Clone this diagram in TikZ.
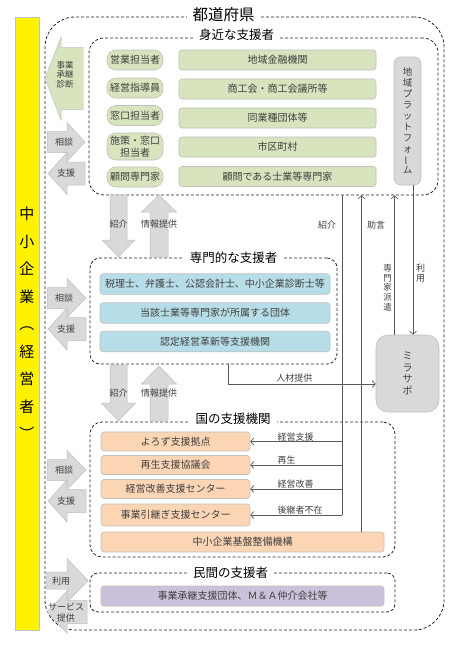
\documentclass[tikz,border=0pt]{standalone}
\usepackage{fontspec}
\setmainfont{Noto Sans CJK JP}
\usepackage{graphicx}
\usepackage{tikz}
\usetikzlibrary{positioning,calc,arrows.meta}

\definecolor{grnfill}{HTML}{D7E4BD}
\definecolor{bluefill}{HTML}{B7DEE8}
\definecolor{orgfill}{HTML}{FCD5B5}
\definecolor{purfill}{HTML}{CCC1DA}
\definecolor{grayfill}{HTML}{D9D9D9}
\definecolor{boxline}{HTML}{BFBFBF}
\definecolor{txt}{HTML}{404040}
\definecolor{connline}{HTML}{595959}

% fat arrows: [style]{tail}{head base}{tip}{centre}{shaft half}{head half}
\newcommand{\hblock}[7][blockarrow]{%
  \filldraw[#1] (#2,{#5-#6}) -- (#3,{#5-#6}) -- (#3,{#5-#7}) -- (#4,#5)
    -- (#3,{#5+#7}) -- (#3,{#5+#6}) -- (#2,{#5+#6}) -- cycle;}
\newcommand{\vblock}[7][blockarrow]{%
  \filldraw[#1] ({#5-#6},#2) -- ({#5-#6},#3) -- ({#5-#7},#3) -- (#5,#4)
    -- ({#5+#7},#3) -- ({#5+#6},#3) -- ({#5+#6},#2) -- cycle;}

\begin{document}
\begin{tikzpicture}[x=1pt,y=-1pt,
  grp/.style={draw=black!85, line width=0.8pt, dash pattern=on 3pt off 2pt, rounded corners=#1},
  grp/.default=12pt,
  grptitle/.style={fill=white, inner xsep=6pt, inner ysep=1pt, font=\fontsize{12.5}{14}\selectfont},
  panel/.style={draw=boxline, line width=0.6pt, rounded corners=3pt, inner sep=1pt, text=txt,
    font=\fontsize{10}{12}\selectfont, minimum height=20pt},
  pill/.style={panel, fill=grnfill, rounded corners=9pt, minimum width=56pt},
  wide/.style={panel, fill=grnfill, minimum width=197pt},
  expert/.style={panel, fill=bluefill, minimum width=230pt, minimum height=20.5pt},
  natl/.style={panel, fill=orgfill, minimum width=149pt, minimum height=19pt},
  vbox/.style={panel, fill=grayfill, align=center},
  conn/.style={draw=connline, line width=0.7pt},
  lbl/.style={text=txt, font=\fontsize{9}{11}\selectfont, inner sep=0pt},
  blockarrow/.style={fill=grayfill, draw=boxline, line width=0.5pt},
  greenarrow/.style={fill=grnfill, draw=boxline, line width=0.5pt},
  >={Straight Barb[length=3pt,width=7pt]}
]
\useasboundingbox (0,0) rectangle (466,651);

% prefecture frame and the company bar
\node[grp=30pt, minimum width=399pt, minimum height=613pt] (pref) at (244.5,323.5) {};
\node[grptitle, font=\fontsize{15.5}{17}\selectfont] (prefT) at (223.5,15) {都道府県};
\node[draw=boxline, fill=yellow, minimum width=24pt, minimum height=613pt, inner sep=0pt,
  align=center, font=\fontsize{15}{27.5}\selectfont] (sme) at (27,323.5)
  {中\\小\\企\\業\\︵\\経\\営\\者\\︶};

% nearby supporters
\node[grp=15pt, minimum width=349pt, minimum height=157pt] (near) at (263.5,116.5) {};
\node[grptitle] (nearT) at (236.5,35) {身近な支援者};
\node[pill] (eigyo) at (135,60) {営業担当者};
\node[pill] (shido) at (135,88) {経営指導員};
\node[pill] (madoguchi) at (135,115.5) {窓口担当者};
\node[pill, minimum height=27pt, align=center] (shisaku) at (135,146.5) {施策・窓口\\担当者};
\node[pill] (komon) at (135,177) {顧問専門家};
\node[wide] (kinyu) at (277.5,60) {地域金融機関};
\node[wide] (shoko) at (277.5,89) {商工会・商工会議所等};
\node[wide] (dogyo) at (277.5,118) {同業種団体等};
\node[wide] (shiku) at (277.5,147) {市区町村};
\node[wide] (shigyo) at (277.5,176.5) {顧問である士業等専門家};
\node[vbox, minimum width=27pt, minimum height=128pt, rounded corners=7pt,
  font=\fontsize{9.5}{10.9}\selectfont] (platform) at (407.5,121)
  {地\\域\\プ\\ラ\\ッ\\ト\\フ\\ォ\\\rotatebox[origin=c]{90}{ー}\\ム};

% specialist supporters
\node[grp=10pt, minimum width=247pt, minimum height=106pt] (senmon) at (213.5,311) {};
\node[grptitle] (senmonT) at (233.5,258) {専門的な支援者};
\node[expert] (zeiri) at (215,284) {税理士、弁護士、公認会計士、中小企業診断士等};
\node[expert] (dantai) at (215,313) {当該士業等専門家が所属する団体};
\node[expert] (nintei) at (215,341.5) {認定経営革新等支援機関};

\node[vbox, minimum width=63pt, minimum height=77pt, rounded corners=12pt,
  font=\fontsize{10}{11.8}\selectfont] (mira) at (407.5,373.5) {ミ\\ラ\\サ\\ポ};

% national agencies
\node[grp=12pt, minimum width=305pt, minimum height=135pt] (kuni) at (242.5,489.5) {};
\node[grptitle] (kuniT) at (233,418.5) {国の支援機関};
\node[natl] (yorozu) at (175.5,441.5) {よろず支援拠点};
\node[natl] (saisei) at (175.5,465) {再生支援協議会};
\node[natl] (kaizen) at (175.5,489) {経営改善支援センター};
\node[natl, minimum height=22pt] (hikitsugi) at (175.5,515) {事業引継ぎ支援センター};
\node[natl, minimum width=283pt, minimum height=20pt] (kiban) at (242.5,542) {中小企業基盤整備機構};

% private supporters
\node[grp=8pt, minimum width=305pt, minimum height=39pt] (minkan) at (242.5,592.5) {};
\node[grptitle] (minkanT) at (230.5,572.5) {民間の支援者};
\node[panel, fill=purfill, minimum width=283pt] (mna) at (242.5,596) {事業承継支援団体、Ｍ＆Ａ仲介会社等};

% thin connectors
\coordinate (busA) at (342,515);
\coordinate (busB) at (361.5,0);
\coordinate (busC) at (394.5,0);
\coordinate (busD) at (413,0);
\coordinate (busE) at (228,384);
\draw[conn] (near.south -| busA) -- (hikitsugi.east -| busA);
\draw[conn,->] (yorozu.east -| busA) -- node[lbl, pos=0.707, anchor=south west] (lKeiei) {経営支援} (yorozu.east);
\draw[conn,->] (saisei.east -| busA) -- node[lbl, pos=0.707, anchor=south west] (lSaisei) {再生} (saisei.east);
\draw[conn,->] (kaizen.east -| busA) -- node[lbl, pos=0.707, anchor=south west] (lKaizen) {経営改善} (kaizen.east);
\draw[conn,->] (hikitsugi.east -| busA) -- node[lbl, pos=0.707, anchor=south west] (lKoukei) {後継者不在} (hikitsugi.east);
\draw[conn,->] (kiban.north -| busB) -- (near.south -| busB);
\draw[conn,->] (mira.north -| busC) -- (near.south -| busC);
\draw[conn,->] (platform.south -| busD) -- (mira.north -| busD);
\draw[conn,->] (senmon.south -| busE) -- (busE) -- node[lbl, pos=0.45, above=1pt] (lJinzai) {人材提供} (mira.west |- busE);
\node[lbl] (lShokai) at (327,225) {紹介};
\node[lbl] (lJogen) at (376,225) {助言};
\node[lbl, align=center, font=\fontsize{8.5}{9.7}\selectfont] (lHaken) at (387.5,287.5) {専\\門\\家\\派\\遣};
\node[lbl, align=center, font=\fontsize{9}{10}\selectfont] (lRiyo) at (420.5,273.5) {利\\用};

% fat arrows
\hblock[greenarrow]{83}{61}{45}{78.5}{31}{41.5}
\hblock{47}{67}{85}{142}{10.5}{19.5}
\hblock{85}{67}{48}{173.5}{11.5}{21}
\hblock{47}{67}{86}{298}{10.5}{19.5}
\hblock{86}{67}{48}{329}{11.5}{21}
\hblock{47}{67}{86}{470}{10.5}{19.5}
\hblock{86}{67}{48}{501}{11.5}{21}
\hblock{46}{67}{88}{580.5}{8.5}{22}
\hblock{87}{67}{47}{612}{11.5}{21}
\vblock{195}{240}{257}{118.5}{8.5}{16.5}
\vblock{257}{212}{195}{159}{9}{17.5}
\vblock{365}{403}{421}{118.5}{8.5}{17}
\vblock{421}{384}{366}{159}{9}{17.5}

\node[lbl, align=center, font=\fontsize{8.5}{9.4}\selectfont] (shindan) at (65,74.5) {事業\\承継\\診断};
\node[lbl] (soudan1) at (64,142) {相談};
\node[lbl] (shien1) at (66,173) {支援};
\node[lbl] (soudan2) at (64,298) {相談};
\node[lbl] (shien2) at (66,329) {支援};
\node[lbl] (soudan3) at (64,470.5) {相談};
\node[lbl] (shien3) at (66,501.5) {支援};
\node[lbl] (riyo) at (61,581) {利用};
\node[lbl, align=center] (service) at (66,612.5) {サービス\\提供};
\node[lbl] (shokai1) at (118.5,224) {紹介};
\node[lbl] (joho1) at (159,224) {情報提供};
\node[lbl] (shokai2) at (118.5,393) {紹介};
\node[lbl] (joho2) at (159,393.5) {情報提供};
\end{tikzpicture}
\end{document}
